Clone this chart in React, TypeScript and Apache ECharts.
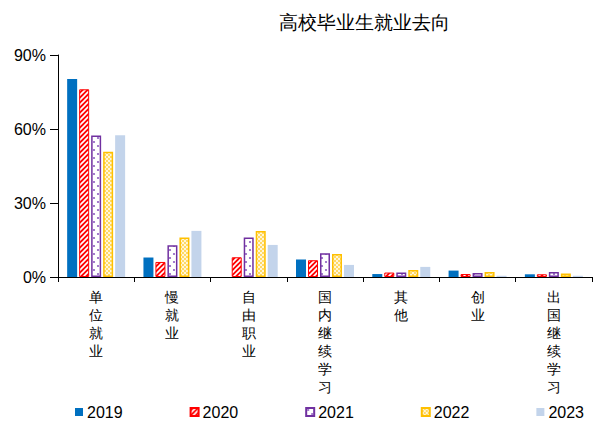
import React, { useEffect, useRef } from "react";
import * as echarts from "echarts";

const title = "高校毕业生就业去向";
const categories = ["单位就业", "慢就业", "自由职业", "国内继续学习", "其他", "创业", "出国继续学习"];
const years = ["2019", "2020", "2021", "2022", "2023"];
const v2019 = [80.3, 7.9, 0, 7.1, 1.2, 2.6, 1.1];
const v2020 = [76.1, 6.1, 8.0, 6.8, 1.8, 1.2, 1.1];
const v2021 = [57.4, 12.9, 16.0, 9.6, 1.8, 1.6, 2.0];
const v2022 = [50.8, 16.0, 18.6, 9.3, 2.8, 2.0, 1.4];
const v2023 = [57.5, 18.7, 13.0, 4.9, 4.1, 0.5, 0.5];
const yTicks = [0, 30, 60, 90];

function makeCanvas(w: number, h: number, draw: (c: CanvasRenderingContext2D) => void) {
  const cv = document.createElement("canvas");
  cv.width = w;
  cv.height = h;
  const ctx = cv.getContext("2d")!;
  draw(ctx);
  return { image: cv, repeat: "repeat", imageWidth: w, imageHeight: h } as any;
}

export default function App() {
  const ref = useRef<HTMLDivElement>(null);
  useEffect(() => {
    if (!ref.current) return;
    const chart = echarts.init(ref.current, null, { renderer: "svg" });

    const stripe = makeCanvas(5, 5, (c) => {
      c.fillStyle = "#FF0000";
      c.fillRect(0, 0, 5, 5);
      c.strokeStyle = "#FFFFFF";
      c.lineWidth = 1.6;
      c.beginPath();
      c.moveTo(-1, 6);
      c.lineTo(6, -1);
      c.moveTo(-1, 1);
      c.lineTo(1, -1);
      c.moveTo(4, 6);
      c.lineTo(6, 4);
      c.stroke();
    });
    const dots = makeCanvas(8, 8, (c) => {
      c.fillStyle = "#FFFFFF";
      c.fillRect(0, 0, 8, 8);
      c.fillStyle = "#8E5CC0";
      c.beginPath();
      c.arc(2, 2, 1.1, 0, Math.PI * 2);
      c.fill();
      c.beginPath();
      c.arc(6, 6, 1.1, 0, Math.PI * 2);
      c.fill();
    });
    const checker = makeCanvas(4, 4, (c) => {
      c.fillStyle = "#FFD966";
      c.fillRect(0, 0, 4, 4);
      c.fillStyle = "#FFF6D9";
      c.fillRect(0, 0, 2, 2);
      c.fillRect(2, 2, 2, 2);
    });

    const base = {
      type: "bar" as const,
      barGap: "20%",
      barCategoryGap: "24%",
    };

    chart.setOption({
      animation: false,
      title: {
        text: title,
        left: 359,
        top: 8,
        textAlign: "center",
        textStyle: { fontFamily: "serif", fontSize: 19, fontWeight: "normal", color: "#000" },
      },
      grid: { left: 58, right: 5, top: 55, bottom: 147, containLabel: false },
      legend: {
        bottom: -1,
        left: 70,
        itemWidth: 8,
        itemHeight: 8,
        itemGap: 67,
        icon: "rect",
        textStyle: { fontFamily: "Liberation Sans", fontSize: 16, color: "#000", padding: [0, 0, 0, -1] },
        data: years,
      },
      xAxis: {
        type: "category",
        data: categories,
        axisLine: { lineStyle: { color: "#000", width: 1 } },
        axisTick: { show: true, length: 5, lineStyle: { color: "#000" } },
        axisLabel: {
          interval: 0,
          margin: 11,
          fontFamily: "serif",
          fontSize: 14,
          lineHeight: 18,
          color: "#000",
          formatter: (v: string) => v.split("").join("\n"),
        },
      },
      yAxis: {
        type: "value",
        min: yTicks[0],
        max: yTicks[yTicks.length - 1],
        interval: 30,
        splitLine: { show: false },
        axisLine: { show: true, lineStyle: { color: "#000" } },
        axisTick: { show: true, length: 8, lineStyle: { color: "#000" } },
        axisLabel: {
          formatter: "{value}%",
          margin: 12,
          fontFamily: "Liberation Sans",
          fontSize: 16,
          color: "#000",
        },
      },
      series: [
        { ...base, name: years[0], data: v2019, itemStyle: { color: "#0070C0" } },
        { ...base, name: years[1], data: v2020, itemStyle: { color: stripe, borderColor: "#FF0000", borderWidth: 1 } },
        { ...base, name: years[2], data: v2021, itemStyle: { color: dots, borderColor: "#7030A0", borderWidth: 1.5 } },
        { ...base, name: years[3], data: v2022, itemStyle: { color: checker, borderColor: "#FFC000", borderWidth: 1.5 } },
        { ...base, name: years[4], data: v2023, itemStyle: { color: "#C3D4EB" } },
      ],
    });
    return () => chart.dispose();
  }, []);
  return <div ref={ref} style={{ width: 597, height: 424, position: "absolute", left: 0, top: 0 }} />;
}
